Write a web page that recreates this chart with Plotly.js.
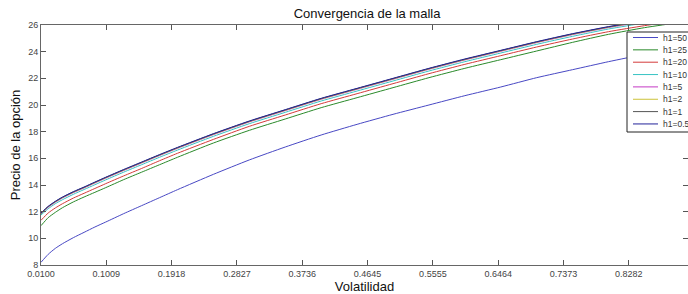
<!DOCTYPE html>
<html>
<head>
<meta charset="utf-8">
<script src="https://cdn.plot.ly/plotly-3.0.1.min.js"></script>
<style>html,body{margin:0;padding:0;background:#fff;}#chart{width:688px;height:294px;}</style>
</head>
<body>
<div id="chart"></div>
<script>
// Volatility grid
const volatilidad = [0.01,0.02,0.03,0.04,0.055,0.07,0.085,0.1,0.125,0.15,0.175,0.2,0.25,0.3,0.35,0.4,0.45,0.5,0.55,0.6,0.65,0.7,0.75,0.8,0.85,0.9,0.95,1.0];

// Option price for each mesh size h1
const h1_50  = [8.2,8.8,9.25,9.6,10.05,10.45,10.85,11.22,11.85,12.45,13.05,13.65,14.8,15.88,16.85,17.75,18.55,19.3,20.0,20.7,21.35,22.05,22.65,23.25,23.8,24.3,24.8,25.25];
const h1_25  = [10.95,11.55,11.95,12.3,12.73,13.1,13.45,13.8,14.4,14.96,15.52,16.08,17.15,18.1,18.95,19.8,20.55,21.3,22.05,22.75,23.4,24.05,24.7,25.3,25.8,26.2,26.6,27.0];
const h1_20  = [11.35,11.9,12.28,12.6,13.02,13.38,13.74,14.1,14.68,15.24,15.82,16.38,17.42,18.4,19.25,20.1,20.85,21.6,22.35,23.05,23.7,24.35,24.95,25.5,25.95,26.35,26.75,27.15];
const h1_10  = [11.75,12.22,12.6,12.9,13.3,13.66,14.02,14.38,14.96,15.52,16.08,16.62,17.65,18.6,19.45,20.3,21.05,21.8,22.55,23.25,23.9,24.55,25.15,25.7,26.15,26.55,26.95,27.35];
const h1_5   = [11.83,12.33,12.71,13.03,13.43,13.78,14.15,14.51,15.09,15.65,16.21,16.75,17.78,18.73,19.58,20.43,21.18,21.93,22.68,23.38,24.03,24.68,25.28,25.81,26.25,26.65,27.05,27.45];
const h1_2   = [11.86,12.36,12.74,13.06,13.46,13.81,14.18,14.54,15.12,15.68,16.24,16.78,17.81,18.76,19.61,20.46,21.21,21.96,22.71,23.41,24.06,24.71,25.31,25.84,26.28,26.68,27.08,27.48];
const h1_1   = [11.88,12.38,12.76,13.08,13.48,13.83,14.2,14.56,15.14,15.7,16.26,16.8,17.83,18.78,19.63,20.48,21.23,21.98,22.73,23.43,24.08,24.73,25.33,25.86,26.3,26.7,27.1,27.5];
const h1_0_5 = [11.9,12.4,12.78,13.1,13.5,13.85,14.22,14.58,15.16,15.72,16.28,16.82,17.85,18.8,19.65,20.5,21.25,22.0,22.75,23.45,24.1,24.75,25.35,25.88,26.32,26.72,27.12,27.52];

const seriesNames = ['h1=50','h1=25','h1=20','h1=10','h1=5','h1=2','h1=1','h1=0.5'];
const seriesValues = [h1_50,h1_25,h1_20,h1_10,h1_5,h1_2,h1_1,h1_0_5];
const seriesColors = ['#4848c4','#2a8a2a','#d43a3a','#38c4c4','#c438c4','#ccc238','#555555','#22229a'];

const xTickVals = [0.0100,0.1009,0.1918,0.2827,0.3736,0.4645,0.5555,0.6464,0.7373,0.8282];
const xTickText = ['0.0100','0.1009','0.1918','0.2827','0.3736','0.4645','0.5555','0.6464','0.7373','0.8282'];
const yTickVals = [8,10,12,14,16,18,20,22,24,26];

const FONT = 'Liberation Sans, Arial, Helvetica, sans-serif';
const W = 688, H = 294, ML = 41, MT = 25, MB = 29;
const PW = W - ML, PH = H - MT - MB;
const px2x = p => (p - ML) / PW;
const px2y = p => (H - MB - p) / PH;

const traces = seriesNames.map((n, i) => ({
  type: 'scatter', mode: 'lines', name: n,
  x: volatilidad, y: seriesValues[i],
  line: {color: seriesColors[i], width: 1, shape: 'spline', smoothing: 0.6},
  showlegend: false, hoverinfo: 'skip'
}));

// Custom legend box (MATLAB style)
const shapes = [{
  type: 'rect', xref: 'paper', yref: 'paper',
  x0: px2x(627), x1: px2x(700), y0: px2y(132), y1: px2y(32),
  fillcolor: '#ffffff', line: {color: '#222', width: 1}, layer: 'above'
}];
const annotations = [];
seriesNames.forEach((n, i) => {
  const yy = 37.5 + i * 12.35;
  shapes.push({type: 'line', xref: 'paper', yref: 'paper', layer: 'above',
    x0: px2x(633), x1: px2x(658), y0: px2y(yy), y1: px2y(yy),
    line: {color: seriesColors[i], width: 1}});
  annotations.push({xref: 'paper', yref: 'paper', x: px2x(661), y: px2y(yy),
    xanchor: 'left', yanchor: 'middle', text: n, showarrow: false,
    font: {family: FONT, size: 8.5, color: '#333'}});
});

const layout = {
  width: W, height: H,
  margin: {l: ML, r: 0, t: MT, b: MB, pad: 0},
  paper_bgcolor: '#fff', plot_bgcolor: '#fff',
  font: {family: FONT, color: '#222'},
  title: {text: 'Convergencia de la malla', xref: 'paper', x: 0.504, xanchor: 'center',
          yref: 'container', y: 1 - 13/294, yanchor: 'middle',
          font: {family: FONT, size: 13, color: '#111'}},
  xaxis: {
    range: [0.01, 0.01 + PW / 718.4], tickvals: xTickVals, ticktext: xTickText,
    ticks: 'inside', ticklen: 5, tickcolor: '#555', tickwidth: 1,
    showline: true, linecolor: '#666', linewidth: 1, mirror: 'ticks',
    showgrid: false, zeroline: false,
    tickfont: {family: FONT, size: 9, color: '#444'},
    title: {text: 'Volatilidad', standoff: 2, font: {family: FONT, size: 13, color: '#111'}}
  },
  yaxis: {
    range: [8, 26], tickvals: yTickVals,
    ticks: 'inside', ticklen: 5, tickcolor: '#555', tickwidth: 1,
    showline: true, linecolor: '#666', linewidth: 1, mirror: 'ticks',
    showgrid: false, zeroline: false,
    tickfont: {family: FONT, size: 9, color: '#444'},
    title: {text: 'Precio de la opción', standoff: 4, font: {family: FONT, size: 13, color: '#111'}}
  },
  shapes: shapes,
  annotations: annotations
};

Plotly.newPlot('chart', traces, layout, {staticPlot: true, displayModeBar: false});
</script>
</body>
</html>
